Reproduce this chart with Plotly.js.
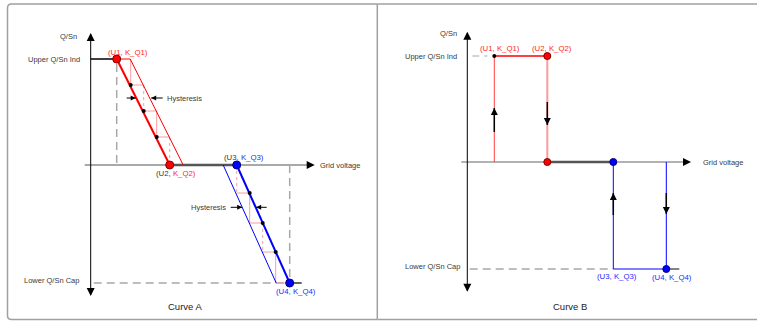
<!DOCTYPE html>
<html>
<head>
<meta charset="utf-8">
<script src="https://cdn.plot.ly/plotly-3.0.1.min.js"></script>
<style>
  html, body { margin: 0; padding: 0; background: #fff; }
  #chart { width: 757px; height: 322px; }
</style>
</head>
<body>
<div id="chart"></div>
<script>
// Curve A: Q/Sn droop with hysteresis (units roughly = px, origin at axis crossing)
const aU = [26, 79, 146, 199];          // U1..U4
const aK = [106, 0, 0, -118];           // K_Q1..K_Q4
const aHyst = 13.5;                     // hysteresis width
const aDotsX = [40, 53, 66, 159, 172, 185];
const aDotsY = [80, 54, 28, -28, -58, -87];
const aStairUpX = [40, 40, 53, 53, 66, 66, 79, 79];
const aStairUpY = [106, 80, 80, 54, 54, 28, 28, 0];
const aStairDnX = [146, 146, 159, 159, 172, 172, 185, 185, 199];
const aStairDnY = [0, -28, -28, -58, -58, -87, -87, -118, -118];

// Curve B: step characteristic
const bU = [27, 80, 146, 199];          // U1..U4
const bK = [106, 106, -107, -107];      // K_Q1..K_Q4

const pointLabels = ['(U1, K_Q1)', '(U2, K_Q2)', '(U3, K_Q3)', '(U4, K_Q4)'];

const RED = '#ff0000', PINK = '#ff9a9a', BLUE = '#0000ff', GRAY = '#a8a8a8', DARK = '#3a3a3a';
const A = ['x', 'y'], B = ['x2', 'y2'];

const traces = [];
function line(xs, ys, color, width, dash, ax) {
  traces.push({
    x: xs, y: ys, mode: 'lines', xaxis: ax[0], yaxis: ax[1],
    line: { color: color, width: width, dash: dash || 'solid' },
    hoverinfo: 'skip', showlegend: false
  });
}
function pts(xs, ys, color, size, border, symbol, ax) {
  traces.push({
    x: xs, y: ys, mode: 'markers', xaxis: ax[0], yaxis: ax[1],
    marker: { color: color, size: size, symbol: symbol || 'circle',
              line: { color: border || color, width: border ? 1 : 0 } },
    hoverinfo: 'skip', showlegend: false
  });
}
// pick segments i -> i+1 of a polyline
function segs(xs, ys, idx) {
  const sx = [], sy = [];
  idx.forEach(i => { sx.push(xs[i], xs[i + 1], null); sy.push(ys[i], ys[i + 1], null); });
  return [sx, sy];
}
function arrow(x0, y0, x1, y1, size, sym, w, ax) {
  line([x0, x1], [y0, y1], '#000', w, 'solid', ax);
  pts([x1], [y1], '#000', size, null, sym, ax);
}

// ---------- Curve A ----------
line([-6, 222], [0, 0], '#8c8c8c', 1.5, 'solid', A);
line([aU[1], aU[2]], [0, 0], '#555', 2.5, 'solid', A);
line([0, 0], [131, -130], '#000', 1, 'solid', A);
pts([0], [132], '#000', 8, null, 'arrow-up', A);
pts([0], [-131], '#000', 8, null, 'arrow-down', A);
pts([224], [0], '#000', 8, null, 'arrow-right', A);

line([aU[0], aU[0]], [101, 0], GRAY, 1.5, '8px,5px', A);
line([aU[3], aU[3]], [0, aK[3]], GRAY, 1.5, '8px,5px', A);
line([3, aU[3]], [aK[3], aK[3]], GRAY, 1.5, '8px,5px', A);
line([0, aU[0]], [aK[0], aK[0]], '#000', 1.5, 'solid', A);
line([aU[3], 211], [aK[3], aK[3]], '#333', 1.5, 'solid', A);

let s = segs(aStairUpX, aStairUpY, [0, 1, 3, 4, 5]);
line(s[0], s[1], PINK, 1, 'solid', A);
s = segs(aStairUpX, aStairUpY, [2, 6]);
line(s[0], s[1], PINK, 1, 'dot', A);
s = segs(aStairDnX, aStairDnY, [1, 2, 3, 5, 6, 7]);
line(s[0], s[1], PINK, 1, 'solid', A);
s = segs(aStairDnX, aStairDnY, [0, 4]);
line(s[0], s[1], PINK, 1, 'dot', A);

line([aU[0], aU[0] + aHyst, aU[1] + aHyst], [aK[0], aK[0], aK[1]], RED, 1, 'solid', A);
line([aU[0], aU[1]], [aK[0], aK[1]], RED, 2, 'solid', A);
line([aU[2] - aHyst, aU[3] - aHyst], [aK[2], aK[3]], BLUE, 1, 'solid', A);
line([aU[2], aU[3]], [aK[2], aK[3]], BLUE, 2, 'solid', A);

pts(aDotsX, aDotsY, '#000', 4, null, 'circle', A);
pts(aU.slice(0, 2), aK.slice(0, 2), RED, 8, '#800000', 'circle', A);
pts(aU.slice(2), aK.slice(2), BLUE, 8, '#000080', 'circle', A);

arrow(36, 67, 45, 67, 5, 'arrow-right', 1, A);
arrow(72, 67, 60.5, 67, 5, 'arrow-left', 1, A);
arrow(140, -42.3, 151.5, -42.3, 5, 'arrow-right', 1, A);
arrow(176, -42.3, 165.5, -42.3, 5, 'arrow-left', 1, A);

// ---------- Curve B ----------
line([-6, 221], [0, 0], '#999', 1.5, 'solid', B);
line([bU[1], bU[2]], [0, 0], '#555', 2.5, 'solid', B);
line([0, 0], [129, -129], '#000', 1, 'solid', B);
pts([0], [130.3], '#000', 8, null, 'arrow-up', B);
pts([0], [-129.7], '#000', 8, null, 'arrow-down', B);
pts([223.7], [0], '#000', 8, null, 'arrow-right', B);

line([5, 20], [bK[0], bK[0]], GRAY, 1.2, '7px,5px', B);
line([2.4, bU[2]], [bK[2], bK[2]], GRAY, 1.5, '8px,5px', B);
line([bU[0], bU[0]], [bK[0], 0], '#ff4040', 1, 'solid', B);
line([bU[1], bU[1]], [bK[1], 0], PINK, 2, 'solid', B);
line([bU[0], bU[1]], [bK[0], bK[1]], RED, 1.5, 'solid', B);
line([bU[2], bU[2], bU[3], bU[3]], [0, bK[2], bK[3], 0], BLUE, 1, 'solid', B);
line([bU[3], 212], [bK[3], bK[3]], '#333', 1.2, 'solid', B);

pts([bU[0]], [bK[0]], '#000', 4, null, 'circle', B);
pts([bU[1], bU[1]], [bK[1], 0], RED, 7, '#800000', 'circle', B);
pts([bU[2], bU[3]], [0, bK[3]], BLUE, 7, '#000080', 'circle', B);

arrow(bU[0], 30, bU[0], 54, 7, 'arrow-up', 1.5, B);
arrow(bU[1], 60, bU[1], 37, 7, 'arrow-down', 1.5, B);
arrow(bU[2], -53, bU[2], -31, 7, 'arrow-up', 1.5, B);
arrow(bU[3], -31, bU[3], -52, 7, 'arrow-down', 1.5, B);

// ---------- texts ----------
const FONT = 'Liberation Sans, Arial, sans-serif';
const ann = [];
function lab(text, x, y, xa, ax, color, size) {
  ann.push({ text: text, x: x, y: y, xref: ax[0], yref: ax[1], xanchor: xa, yanchor: 'middle',
             showarrow: false, font: { family: FONT, size: size || 7.5, color: color || DARK } });
}
function mixed(i, color) {
  const p = pointLabels[i].split(' ');
  return p[0] + ' <span style="color:' + color + '">' + p[1] + '</span>';
}
const LRED = '#ff2a2a', LBLUE = '#2a2aff';
const PL = 7.8, CT = 9.5;

lab('Q/Sn', -22.7, 129, 'center', A);
lab('Upper Q/Sn Ind', -8.7, aK[0], 'right', A);
lab('Lower Q/Sn Cap', -9.7, -115, 'right', A);
lab(pointLabels[0], 37, 112.5, 'center', A, LRED, PL);
lab(mixed(1, LRED), 84.8, -8.3, 'center', A, DARK, PL);
lab(mixed(2, LBLUE), 153.3, 7.7, 'center', A, DARK, PL);
lab(pointLabels[3], 205.3, -126.7, 'center', A, LBLUE, PL);
lab('Grid voltage', 227.3, 0, 'left', A);
lab('Hysteresis', 74.3, 67, 'left', A);
lab('Hysteresis', 137.3, -42.3, 'right', A);
lab('Curve A', 94.3, -141.7, 'center', A, '#222', CT);

lab('Q/Sn', -19.3, 129, 'center', B);
lab('Upper Q/Sn Ind', -8.6, bK[0], 'right', B);
lab('Lower Q/Sn Cap', -5.3, -104.7, 'right', B);
lab(pointLabels[0], 32.4, 113.7, 'center', B, LRED, PL);
lab(pointLabels[1], 84.7, 113.7, 'center', B, LRED, PL);
lab(pointLabels[2], 149.7, -114, 'center', B, LBLUE, PL);
lab(pointLabels[3], 204.7, -115.3, 'center', B, LBLUE, PL);
lab('Grid voltage', 233.7, 0, 'left', B);
lab('Curve B', 102.7, -144, 'center', B, '#222', CT);

// frame axes (pixel space)
traces.push({ x: [], y: [], xaxis: 'x3', yaxis: 'y3', mode: 'lines', showlegend: false, hoverinfo: 'skip' });
const frame = { color: '#a0a0a0', width: 1.5 };
const shapes = [
  { type: 'path', xref: 'x3', yref: 'y3', line: frame,
    path: 'M 377.3 4 L 11.5 4 Q 7.5 4 7.5 8 L 7.5 315.5 Q 7.5 319.5 11.5 319.5 L 377.3 319.5' },
  { type: 'line', xref: 'x3', yref: 'y3', x0: 377.3, x1: 757, y0: 4, y1: 4, line: frame },
  { type: 'line', xref: 'x3', yref: 'y3', x0: 377.3, x1: 757, y0: 319.5, y1: 319.5, line: frame },
  { type: 'line', xref: 'x3', yref: 'y3', x0: 377.3, x1: 377.3, y0: 4, y1: 319.5, line: frame }
];

const hidden = { visible: false, fixedrange: true, domain: [0, 1] };
const layout = {
  width: 757, height: 322,
  margin: { l: 0, r: 0, t: 0, b: 0 },
  paper_bgcolor: '#fff', plot_bgcolor: '#fff',
  showlegend: false,
  xaxis: Object.assign({ range: [-90.7, 666.3] }, hidden),
  yaxis: Object.assign({ range: [-157, 165] }, hidden),
  xaxis2: Object.assign({ range: [-467.3, 289.7], overlaying: 'x' }, hidden),
  yaxis2: Object.assign({ range: [-160, 162], overlaying: 'y' }, hidden),
  xaxis3: Object.assign({ range: [0, 757], overlaying: 'x' }, hidden),
  yaxis3: Object.assign({ range: [322, 0], overlaying: 'y' }, hidden),
  annotations: ann,
  shapes: shapes
};

Plotly.newPlot('chart', traces, layout, { staticPlot: true, displayModeBar: false });
</script>
</body>
</html>
